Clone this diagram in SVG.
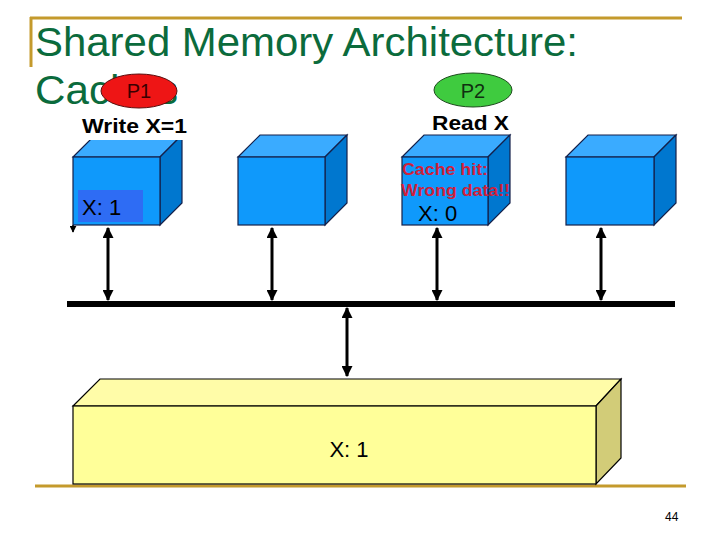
<svg xmlns="http://www.w3.org/2000/svg" width="720" height="540" viewBox="0 0 720 540">
<style>
.gold{stroke:#c49a2c;stroke-width:3;fill:none}
.title{font-family:"Liberation Sans",Arial,sans-serif;font-size:41px;fill:#0b6b3c}
.front{fill:#0f99fb;stroke:#14204a;stroke-width:1.2}
.top{fill:#3aabff;stroke:#14204a;stroke-width:1.2}
.side{fill:#0077cf;stroke:#14204a;stroke-width:1.2}
.lbl{font-family:"Liberation Sans",Arial,sans-serif}
.bold{font-weight:bold}
.blk{fill:#000}
.warn{fill:#d0203a}
.conn{stroke:#000;stroke-width:3;fill:none}
</style>
<defs>
<marker id="ah" viewBox="0 0 10 10" refX="9" refY="5" markerWidth="11" markerHeight="11" markerUnits="userSpaceOnUse" orient="auto-start-reverse">
<path d="M0,0 L10,5 L0,10 z" fill="#000"/>
</marker>
<marker id="ahs" viewBox="0 0 10 10" refX="9" refY="5" markerWidth="7" markerHeight="7" markerUnits="userSpaceOnUse" orient="auto">
<path d="M0,0 L10,5 L0,10 z" fill="#000"/>
</marker>
</defs>
<rect width="720" height="540" fill="#fff"/>

<g id="title">
<line class="gold" x1="30" y1="18" x2="682" y2="18"/>
<line class="gold" x1="31" y1="17" x2="31" y2="67"/>
<text class="title" x="35" y="56" textLength="543" lengthAdjust="spacingAndGlyphs">Shared Memory Architecture:</text>
<text class="title" x="35" y="104" textLength="143" lengthAdjust="spacingAndGlyphs">Caches</text>
</g>

<g id="bottom-rule">
<line class="gold" x1="35" y1="486" x2="686" y2="486"/>
</g>

<g id="cache1">
<polygon class="top" points="73,157 95,135 182,135 160,157"/>
<polygon class="side" points="160,157 182,135 182,203 160,225"/>
<rect class="front" x="73" y="157" width="87" height="68"/>
<rect x="78" y="190" width="65" height="32" fill="#2e6cf4"/>
<text class="lbl blk" x="82" y="215" font-size="22">X: 1</text>
</g>

<g id="p1">
<rect x="78" y="114" width="112" height="26" fill="#fff"/>
<ellipse cx="139" cy="91" rx="38" ry="17" fill="#ee1515" stroke="#5a1010" stroke-width="1"/>
<text class="lbl" x="139" y="98" font-size="20" text-anchor="middle" style="fill:#3a0000">P1</text>
<text class="lbl bold blk" x="82" y="133" font-size="20" textLength="105" lengthAdjust="spacingAndGlyphs">Write X=1</text>
</g>

<g id="cache2">
<polygon class="top" points="238,157 260,135 347,135 325,157"/>
<polygon class="side" points="325,157 347,135 347,203 325,225"/>
<rect class="front" x="238" y="157" width="87" height="68"/>
</g>

<g id="cache3">
<polygon class="top" points="402,157 424,135 510,135 488,157"/>
<polygon class="side" points="488,157 510,135 510,203 488,225"/>
<rect class="front" x="402" y="157" width="86" height="68"/>
<text class="lbl bold warn" x="402" y="175" font-size="16.5" textLength="86" lengthAdjust="spacingAndGlyphs">Cache hit:</text>
<text class="lbl bold warn" x="401" y="196" font-size="16.5" textLength="109" lengthAdjust="spacingAndGlyphs">Wrong data!!</text>
<text class="lbl blk" x="418" y="221" font-size="22">X: 0</text>
</g>

<g id="p2">
<ellipse cx="473" cy="90" rx="39" ry="17" fill="#3fcb3f" stroke="#1f4a1f" stroke-width="1"/>
<text class="lbl" x="473" y="98" font-size="20" text-anchor="middle" style="fill:#103010">P2</text>
<text class="lbl bold blk" x="432" y="130" font-size="21" textLength="77" lengthAdjust="spacingAndGlyphs">Read X</text>
</g>

<g id="cache4">
<polygon class="top" points="566,157 588,135 676,135 654,157"/>
<polygon class="side" points="654,157 676,135 676,203 654,225"/>
<rect class="front" x="566" y="157" width="88" height="68"/>
</g>

<g id="memory">
<polygon points="73,406 100,379 621,379 596,406" fill="#fffca8" stroke="#000" stroke-width="1.2"/>
<polygon points="596,406 621,379 621,458 596,484" fill="#d2cc78" stroke="#000" stroke-width="1.2"/>
<rect x="73" y="406" width="523" height="78" fill="#ffff99" stroke="#000" stroke-width="1.2"/>
<text class="lbl blk" x="349" y="457" font-size="22" text-anchor="middle">X: 1</text>
</g>

<g id="page-number">
<text class="lbl blk" x="665" y="521" font-size="12">44</text>
</g>

<g id="connectors">
<line x1="67" y1="304" x2="675" y2="304" stroke="#000" stroke-width="6"/>
<line class="conn" x1="108" y1="228" x2="108" y2="300" marker-start="url(#ah)" marker-end="url(#ah)"/>
<line class="conn" x1="272" y1="228" x2="272" y2="300" marker-start="url(#ah)" marker-end="url(#ah)"/>
<line class="conn" x1="437" y1="228" x2="437" y2="300" marker-start="url(#ah)" marker-end="url(#ah)"/>
<line class="conn" x1="601" y1="228" x2="601" y2="300" marker-start="url(#ah)" marker-end="url(#ah)"/>
<line class="conn" x1="347" y1="308" x2="347" y2="376" marker-start="url(#ah)" marker-end="url(#ah)"/>
<line x1="73" y1="225" x2="73" y2="232" stroke="#000" stroke-width="1.5" marker-end="url(#ahs)"/>
</g>
</svg>
